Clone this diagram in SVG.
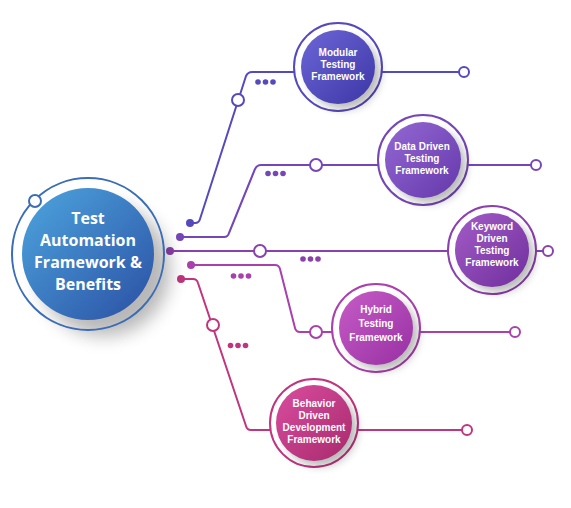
<svg xmlns="http://www.w3.org/2000/svg" width="571" height="508" viewBox="0 0 571 508">
  <defs>
    <linearGradient id="gHub" x1="0" y1="0" x2="1" y2="1">
      <stop offset="0" stop-color="#4ea6df"/>
      <stop offset="1" stop-color="#2a4fa3"/>
    </linearGradient>
    <linearGradient id="g1" x1="0" y1="0" x2="1" y2="1">
      <stop offset="0" stop-color="#6d66d6"/>
      <stop offset="1" stop-color="#3d36a6"/>
    </linearGradient>
    <linearGradient id="g2" x1="0" y1="0" x2="1" y2="1">
      <stop offset="0" stop-color="#9468d2"/>
      <stop offset="1" stop-color="#6538ac"/>
    </linearGradient>
    <linearGradient id="g3" x1="0" y1="0" x2="1" y2="1">
      <stop offset="0" stop-color="#a35cc6"/>
      <stop offset="1" stop-color="#6f2f9e"/>
    </linearGradient>
    <linearGradient id="g4" x1="0" y1="0" x2="1" y2="1">
      <stop offset="0" stop-color="#c75cc6"/>
      <stop offset="1" stop-color="#9730a3"/>
    </linearGradient>
    <linearGradient id="g5" x1="0" y1="0" x2="1" y2="1">
      <stop offset="0" stop-color="#d94d9f"/>
      <stop offset="1" stop-color="#a82a6c"/>
    </linearGradient>
    <filter id="soft" x="-50%" y="-50%" width="200%" height="200%">
      <feGaussianBlur stdDeviation="5"/>
    </filter>
    <filter id="softBig" x="-50%" y="-50%" width="200%" height="200%">
      <feGaussianBlur stdDeviation="9"/>
    </filter>
  </defs>
  <style>
    .wire { fill: none; stroke-width: 2; stroke-linejoin: round; }
    .hollow { fill: #ffffff; stroke-width: 2; }
    .ring { fill: #ffffff; stroke-width: 2; }
    .shade { fill: #000000; opacity: 0.28; }
    .label { font-weight: 700; fill: #ffffff; text-anchor: middle; }
    .node-label { font-family: "Liberation Sans", Arial, sans-serif; font-size: 10px; }
    .hub-label { font-family: "Open Sans", "Noto Sans", "Liberation Sans", sans-serif; font-size: 16px; }
  </style>

  <rect width="571" height="508" fill="#ffffff"/>

  <!-- connectors -->
  <g id="connectors">
    <g stroke="#5549c0" fill="#5549c0">
      <path class="wire" d="M190,223 L195,223 Q199,223 200,219 L246,76 Q248,72 252,72 L459,72"/>
      <circle cx="190" cy="223" r="4" stroke="none"/>
      <circle class="hollow" cx="238" cy="100" r="6"/>
      <circle class="hollow" cx="464" cy="72" r="5"/>
      <g stroke="none"><circle cx="258" cy="82" r="2.8"/><circle cx="265.5" cy="82" r="2.8"/><circle cx="273" cy="82" r="2.8"/></g>
    </g>
    <g stroke="#7446b8" fill="#7446b8">
      <path class="wire" d="M180,237 L224,237 Q228,237 229,233 L255,169 Q257,165 261,165 L531,165"/>
      <circle cx="180" cy="237" r="4" stroke="none"/>
      <circle class="hollow" cx="316" cy="165" r="6"/>
      <circle class="hollow" cx="536" cy="165" r="5"/>
      <g stroke="none"><circle cx="268" cy="173.5" r="2.8"/><circle cx="275.5" cy="173.5" r="2.8"/><circle cx="283" cy="173.5" r="2.8"/></g>
    </g>
    <g stroke="#8a40ad" fill="#8a40ad">
      <path class="wire" d="M170,251 L543,251"/>
      <circle cx="170" cy="251" r="4" stroke="none"/>
      <circle class="hollow" cx="260" cy="251" r="6"/>
      <circle class="hollow" cx="548" cy="251" r="5"/>
      <g stroke="none"><circle cx="303" cy="259" r="2.8"/><circle cx="310.5" cy="259" r="2.8"/><circle cx="318" cy="259" r="2.8"/></g>
    </g>
    <g stroke="#a940ab" fill="#a940ab">
      <path class="wire" d="M191,265 L275,265 Q279,265 280,269 L295,328 Q296,332 300,332 L510,332"/>
      <circle cx="191" cy="265" r="4" stroke="none"/>
      <circle class="hollow" cx="316" cy="332" r="6"/>
      <circle class="hollow" cx="515" cy="332" r="5"/>
      <g stroke="none"><circle cx="233.5" cy="276" r="2.8"/><circle cx="241" cy="276" r="2.8"/><circle cx="248.5" cy="276" r="2.8"/></g>
    </g>
    <g stroke="#c0357e" fill="#c0357e">
      <path class="wire" d="M181,279 L193,279 Q197,279 198,283 L246,426 Q247,430 251,430 L462,430"/>
      <circle cx="181" cy="279" r="4" stroke="none"/>
      <circle class="hollow" cx="213" cy="325" r="6"/>
      <circle class="hollow" cx="467" cy="430" r="5"/>
      <g stroke="none"><circle cx="230.5" cy="345.5" r="2.8"/><circle cx="238" cy="345.5" r="2.8"/><circle cx="245.5" cy="345.5" r="2.8"/></g>
    </g>
  </g>

  <!-- hub -->
  <g id="hub">
    <circle class="shade" cx="104" cy="270" r="66" filter="url(#softBig)"/>
    <circle cx="88" cy="254" r="76" fill="none" stroke="#3a6db6" stroke-width="2"/>
    <circle cx="88" cy="254" r="66" fill="url(#gHub)"/>
    <circle cx="35" cy="201" r="6" fill="#ffffff" stroke="#3a6db6" stroke-width="2"/>
    <text class="label hub-label" x="88" y="224">Test</text>
    <text class="label hub-label" x="88" y="246">Automation</text>
    <text class="label hub-label" x="88" y="268">Framework &amp;</text>
    <text class="label hub-label" x="88" y="290">Benefits</text>
  </g>

  <!-- framework nodes -->
  <g id="node-modular">
    <circle class="ring" cx="338" cy="67" r="44" stroke="#5549c0"/>
    <circle class="shade" cx="344" cy="73" r="36" filter="url(#soft)"/>
    <circle cx="338" cy="67" r="37" fill="url(#g1)"/>
    <text class="label node-label" x="338" y="56">Modular</text>
    <text class="label node-label" x="338" y="68">Testing</text>
    <text class="label node-label" x="338" y="80">Framework</text>
  </g>

  <g id="node-data-driven">
    <circle class="ring" cx="423" cy="160" r="45" stroke="#7446b8"/>
    <circle class="shade" cx="429" cy="166" r="37" filter="url(#soft)"/>
    <circle cx="423" cy="160" r="38" fill="url(#g2)"/>
    <text class="label node-label" x="422" y="150">Data Driven</text>
    <text class="label node-label" x="422" y="162">Testing</text>
    <text class="label node-label" x="422" y="174">Framework</text>
  </g>

  <g id="node-keyword-driven">
    <circle class="ring" cx="492" cy="250" r="44" stroke="#8a40ad"/>
    <circle class="shade" cx="498" cy="256" r="36" filter="url(#soft)"/>
    <circle cx="492" cy="250" r="37" fill="url(#g3)"/>
    <text class="label node-label" x="492" y="230">Keyword</text>
    <text class="label node-label" x="492" y="242">Driven</text>
    <text class="label node-label" x="492" y="254">Testing</text>
    <text class="label node-label" x="492" y="266">Framework</text>
  </g>

  <g id="node-hybrid">
    <circle class="ring" cx="376" cy="328" r="44" stroke="#a940ab"/>
    <circle class="shade" cx="382" cy="334" r="36" filter="url(#soft)"/>
    <circle cx="376" cy="328" r="37" fill="url(#g4)"/>
    <text class="label node-label" x="376" y="313">Hybrid</text>
    <text class="label node-label" x="376" y="327">Testing</text>
    <text class="label node-label" x="376" y="341">Framework</text>
  </g>

  <g id="node-bdd">
    <circle class="ring" cx="314" cy="423" r="44" stroke="#c0357e"/>
    <circle class="shade" cx="320" cy="429" r="37" filter="url(#soft)"/>
    <circle cx="314" cy="423" r="38" fill="url(#g5)"/>
    <text class="label node-label" x="314" y="407">Behavior</text>
    <text class="label node-label" x="314" y="419">Driven</text>
    <text class="label node-label" x="314" y="431">Development</text>
    <text class="label node-label" x="314" y="443">Framework</text>
  </g>
</svg>
